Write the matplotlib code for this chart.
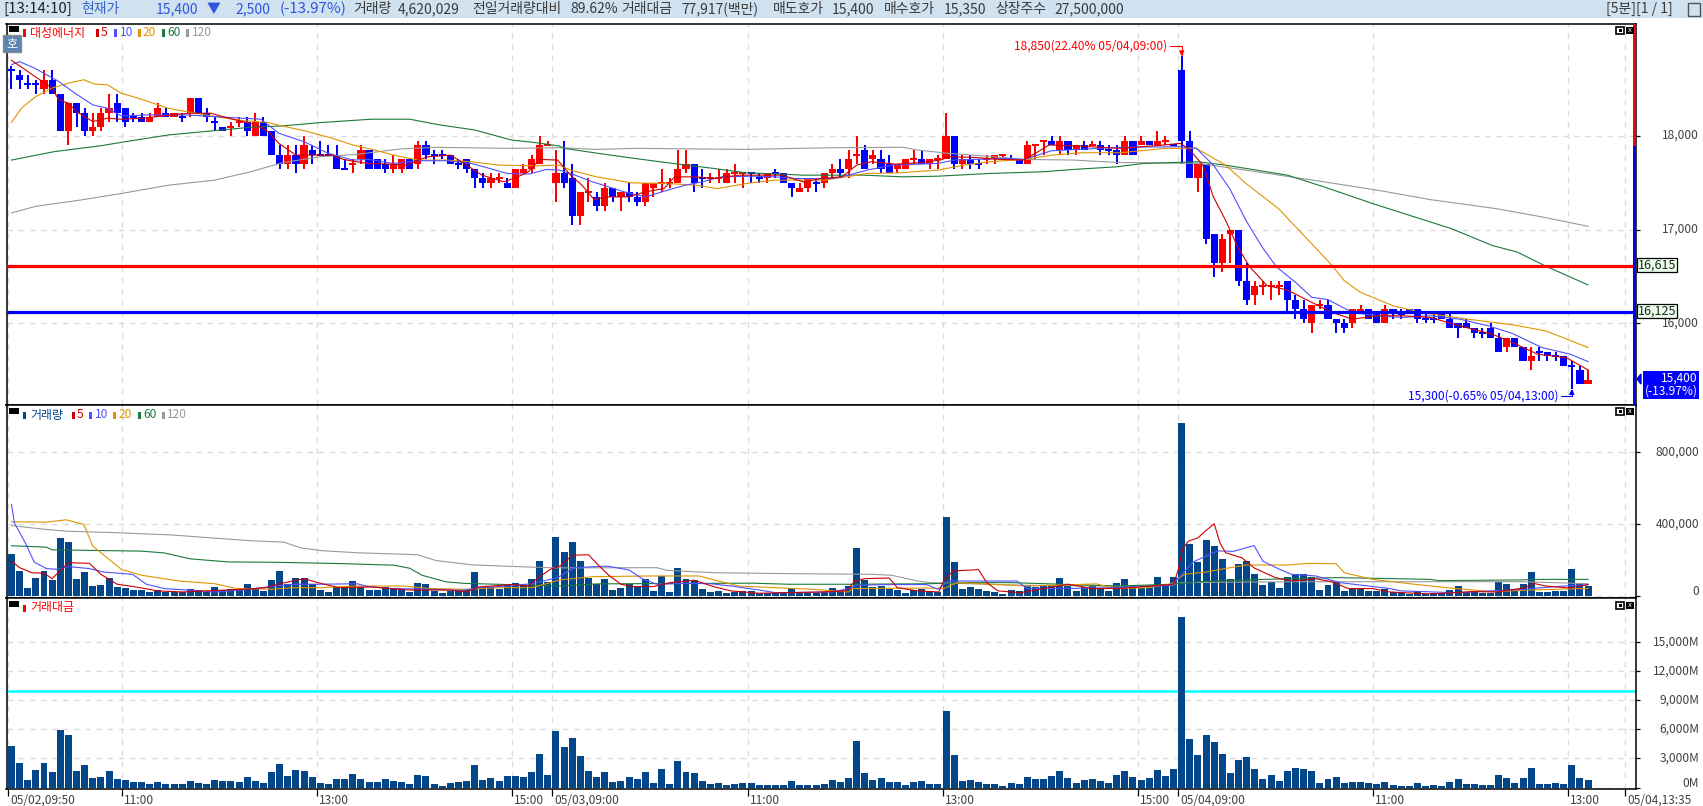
import matplotlib
matplotlib.use('Agg')
import matplotlib.pyplot as plt
from matplotlib.patches import Rectangle, Polygon
from matplotlib.transforms import ScaledTranslation

plt.rcParams['font.family'] = ['Noto Sans CJK KR', 'DejaVu Sans']

W, H = 1703, 806

# 5 minute candles
open_ = [18700,18650,18550,18550,18500,18600,18450,18050,18350,18250,
18050,18100,18250,18350,18300,18200,18200,18150,18200,18250,
18200,18200,18250,18400,18250,18150,18100,18100,18150,18150,
18000,18150,18050,17800,17700,17800,17700,17850,17800,17800,
17800,17650,17700,17750,17850,17750,17700,17650,17650,17750,
17700,17900,17800,17800,17800,17700,17750,17650,17550,17500,
17550,17500,17450,17600,17650,17700,17900,17500,17600,17550,
17150,17400,17350,17250,17450,17350,17400,17350,17300,17450,
17500,17500,17500,17650,17700,17550,17550,17550,17500,17600,
17600,17600,17550,17550,17600,17600,17500,17400,17450,17500,
17500,17600,17650,17650,17800,17850,17750,17750,17700,17650,
17650,17750,17750,17700,17750,17750,18000,17700,17750,17700,
17750,17750,17800,17750,17750,17700,17900,17950,17950,17850,
17950,17850,17900,17900,17900,17850,17850,17800,17950,17900,
17950,17900,17950,17900,18700,17950,17550,17700,16950,16650,
16950,17000,16450,16300,16400,16400,16400,16450,16250,16150,
16000,16200,16200,16050,16000,16000,16100,16150,16100,16000,
16150,16100,16150,16150,16050,16050,16100,16050,16000,16000,
15950,15900,15950,15850,15750,15850,15750,15600,15700,15700,
15650,15650,15550,15500,15350]
high = [18750,18700,18650,18600,18700,18700,18450,18350,18350,18300,
18250,18300,18450,18450,18300,18250,18250,18250,18350,18300,
18250,18250,18400,18400,18300,18200,18100,18150,18200,18200,
18250,18200,18050,17900,17900,17900,18000,17900,17950,17900,
17900,17750,17750,17900,17850,17750,17750,17800,17750,17750,
17950,17950,17850,17850,17800,17750,17750,17650,17600,17600,
17600,17550,17650,17700,17800,18000,17950,17850,17950,17700,
17400,17550,17400,17500,17450,17400,17500,17400,17500,17500,
17650,17550,17850,17850,17700,17650,17600,17650,17650,17700,
17600,17600,17600,17600,17650,17600,17500,17500,17550,17550,
17600,17700,17750,17850,18000,17900,17850,17850,17800,17700,
17750,17850,17850,17750,17800,18250,18000,17800,17800,17750,
17800,17800,17800,17800,17750,17950,17900,17950,18000,18000,
17950,17900,17950,17950,17950,17900,17900,18000,17950,18000,
17950,18050,18000,17900,18850,18050,17700,17700,16950,16950,
17000,17000,16650,16450,16450,16450,16450,16450,16300,16250,
16200,16250,16250,16050,16050,16150,16200,16150,16100,16200,
16150,16150,16150,16150,16100,16100,16100,16100,16000,16050,
15950,15950,16000,15900,15850,15850,15750,15750,15750,15700,
15700,15650,15600,15550,15500]
low = [18500,18500,18500,18450,18450,18450,18050,17900,18100,18000,
18000,18050,18150,18150,18100,18150,18150,18150,18200,18200,
18200,18150,18200,18250,18150,18050,18050,18000,18100,18000,
18000,18000,17800,17650,17650,17600,17650,17700,17800,17800,
17650,17650,17600,17700,17650,17650,17600,17600,17600,17650,
17650,17750,17700,17750,17700,17650,17600,17450,17450,17450,
17500,17450,17450,17600,17600,17700,17900,17300,17450,17050,
17050,17300,17200,17200,17300,17200,17300,17250,17250,17350,
17400,17450,17500,17600,17400,17450,17500,17500,17500,17500,
17450,17500,17500,17500,17550,17500,17350,17400,17400,17400,
17450,17550,17550,17550,17700,17650,17700,17600,17600,17600,
17650,17700,17700,17650,17650,17750,17650,17650,17650,17650,
17700,17700,17750,17750,17700,17700,17750,17800,17900,17800,
17800,17800,17850,17900,17800,17800,17700,17800,17800,17900,
17900,17900,17900,17900,17700,17550,17400,16850,16500,16550,
16650,16400,16200,16200,16300,16250,16300,16100,16050,16000,
15900,16150,16050,15900,15900,15950,16100,16050,16000,16000,
16050,16050,16100,16000,16000,16000,16050,15950,15850,15950,
15850,15850,15850,15700,15700,15750,15600,15500,15600,15600,
15600,15550,15300,15350,15350]
close = [18700,18600,18550,18550,18600,18450,18050,18350,18250,18050,
18100,18250,18300,18250,18150,18200,18150,18200,18300,18200,
18250,18200,18400,18250,18200,18150,18050,18100,18150,18050,
18150,18000,17800,17700,17800,17700,17900,17800,17800,17800,
17650,17650,17700,17850,17650,17650,17650,17700,17750,17650,
17900,17800,17800,17800,17700,17700,17650,17550,17500,17550,
17550,17450,17650,17650,17750,17900,17900,17600,17500,17150,
17400,17400,17250,17450,17350,17400,17350,17300,17500,17500,
17500,17500,17650,17700,17500,17550,17550,17550,17600,17600,
17600,17600,17550,17600,17600,17500,17450,17450,17550,17500,
17600,17650,17600,17750,17800,17650,17800,17650,17600,17700,
17750,17750,17700,17750,17750,18000,17700,17750,17700,17700,
17750,17800,17800,17750,17700,17900,17900,17950,17900,17950,
17850,17900,17850,17900,17850,17850,17800,17950,17800,17950,
17900,17950,17950,17900,17950,17550,17700,16900,16650,16900,
17000,16450,16250,16400,16400,16400,16400,16250,16150,16050,
16200,16200,16050,16000,15950,16150,16150,16050,16000,16150,
16100,16100,16100,16050,16050,16050,16050,15950,15950,15950,
15900,15900,15850,15700,15850,15750,15600,15650,15700,15650,
15650,15550,15550,15350,15400]
red_doji = [27,28,42,60,66,71,80,81,86,87,89,90,104,111,114,120,122,126,127,133,142,154,155,156,161]

volume = [233000,139000,44000,100000,139000,89000,326000,299000,94000,133000,
56000,61000,100000,50000,44000,33000,33000,22000,33000,25000,
22000,22000,39000,33000,22000,50000,33000,39000,33000,67000,
39000,28000,89000,139000,67000,100000,100000,67000,33000,22000,
50000,50000,83000,50000,33000,33000,50000,39000,39000,22000,
72000,67000,28000,17000,28000,33000,39000,133000,50000,50000,
39000,67000,72000,61000,94000,194000,78000,332000,244000,299000,
194000,100000,67000,94000,33000,44000,67000,56000,94000,28000,
111000,22000,156000,94000,89000,39000,22000,28000,17000,22000,
28000,28000,17000,17000,17000,17000,44000,17000,17000,17000,
22000,44000,33000,56000,271000,89000,50000,56000,39000,33000,
17000,33000,39000,28000,22000,443000,189000,39000,50000,39000,
28000,22000,11000,33000,28000,61000,50000,61000,56000,100000,
67000,28000,50000,56000,39000,28000,72000,96000,62000,47000,
56000,106000,67000,106000,960000,288000,189000,315000,282000,205000,
94000,178000,194000,122000,61000,78000,44000,106000,122000,122000,
106000,33000,61000,78000,28000,44000,44000,28000,28000,39000,
22000,17000,11000,28000,11000,17000,17000,33000,56000,22000,
22000,17000,17000,78000,67000,33000,67000,133000,22000,22000,
28000,28000,150000,67000,56000]

amount = [4290,2540,790,1820,2540,1610,5930,5420,1715,2330,
995,1100,1715,890,790,580,580,380,580,380,
380,380,690,480,380,790,690,690,580,1100,
690,480,1610,2435,1200,1820,1715,1100,480,380,
890,890,1400,890,580,580,890,690,580,380,
1300,1200,380,170,480,580,690,2330,790,995,
690,1200,1200,1100,1610,3465,1300,5830,4185,5110,
3260,1715,1100,1610,580,690,1100,890,1610,480,
1920,380,2745,1610,1510,690,380,480,275,380,
480,480,275,275,275,275,690,275,275,275,
380,790,580,995,4800,1510,790,995,580,580,
275,580,690,380,380,7890,3360,690,790,580,
380,380,170,480,380,1100,890,890,1200,1715,
995,480,790,890,690,480,1300,1715,1100,790,
995,1820,1200,1920,17660,5010,3360,5420,4700,3465,
1510,2850,3155,1920,890,1300,690,1715,2020,1920,
1715,480,890,1100,480,580,580,480,380,580,
275,170,170,480,170,275,170,580,890,380,
380,275,275,1300,995,480,995,2020,380,380,
480,380,2330,995,790]

# price moving averages, vertices
p5_x = [0,1.2,3,5,5.8,7,8,10,11.8,13.5,16.2,19.7,21.9,24.5,26.7,28.5,30.2,31.6,32.9,35,36.8,39.5,40.8,42.5,43.9,46.5,48.7,50,51.3,54,55.7,57.9,60.6,62.3,63.6,65,67.2,68.8,70.2,71.7,73.2,75.9,78,80.3,81.6,84.2,86.4,89.5,94.8,97.4,99.6,102.2,104,105.8,108.8,111.5,114.3,115.4,118.5,121.6,124.6,127.7,131.2,136.4,141.8,143.8,144.8,146.6,147.9,149.4,150.9,152.4,154.5,157,160,162.5,165,168.1,171.1,174.6,178.2,182.2,184.7,187.8,191.3,194]
p5 = [18807,18736,18628,18511,18386,18350,18261,18154,18189,18179,18189,18225,18243,18243,18189,18154,18118,18046,17921,17796,17796,17796,17750,17725,17707,17700,17689,17743,17779,17796,17707,17582,17511,17564,17618,17750,17743,17582,17475,17321,17350,17350,17404,17439,17564,17564,17546,17582,17582,17511,17546,17564,17689,17725,17700,17714,17743,17779,17771,17750,17743,17904,17893,17868,17904,17921,17868,17689,17350,17100,16814,16600,16404,16357,16225,16118,16046,16082,16082,16064,15975,15886,15797,15672,15636,15504]
p10_x = [0,1,2.8,4.3,5.8,7.8,10,11.8,13.5,17,21.5,25,28.5,30.7,32.9,36,39,42,44,47,50,53.5,56.6,58.8,61,63.7,65.8,67.4,68.8,71.5,75.4,78,80.7,82.9,85,87.3,91.3,93.9,96.5,101,103,105.3,108.4,114,116,122.5,124.6,128,136.4,143.8,145.8,147.9,149.9,151.9,153.9,155.7,158,160,162,165,168,171.1,174.6,178.2,181.7,184.7,188.3,191.8,194]
p10 = [18761,18793,18725,18654,18582,18457,18332,18296,18214,18225,18225,18207,18189,18179,18029,17939,17814,17743,17750,17707,17736,17736,17707,17654,17600,17593,17643,17636,17600,17511,17404,17350,17421,17475,17511,17564,17571,17564,17546,17546,17582,17636,17689,17707,17743,17761,17750,17843,17879,17886,17868,17689,17439,17100,16814,16600,16439,16279,16254,16118,16082,16064,16082,16046,15975,15893,15743,15672,15593]
p20_x = [0,1.2,3,5,7,8.9,10.2,11.8,13.5,16.2,19.3,21.9,25,28.5,31.6,33.3,36,39.5,42,44.7,47,50,53.5,56.6,60,64.5,67.4,68.8,72,76.3,80.7,84.2,86.9,90.4,93.9,97.8,100,102.7,105.3,109.3,114,117.2,120.3,124.6,128,131.7,136.4,142,145.8,149.4,151.9,155.9,160,162.5,164,166,170,173.4,179.2,184.7,188.8,194]
p20 = [18143,18296,18421,18511,18564,18600,18554,18546,18457,18386,18296,18254,18207,18164,18143,18107,18057,17975,17904,17850,17796,17743,17743,17725,17689,17682,17689,17636,17564,17500,17493,17475,17439,17493,17529,17529,17529,17564,17600,17607,17636,17689,17725,17750,17796,17821,17821,17868,17868,17689,17493,17225,16850,16618,16457,16332,16189,16118,16046,15986,15921,15743]
p60_x = [0,5.2,11,14,19.3,25,29.4,33.3,38,44.3,49,52.7,57,61.5,64.5,67.4,68,72.8,77.6,82,86.4,90.4,94.8,97.4,104.9,109.7,114,120.3,126.9,131.2,136,139.3,146,149.4,157,161.5,167.5,172,177.2,182.2,185.3,188.8,194]
p60 = [17743,17832,17896,17939,18011,18057,18093,18107,18143,18179,18179,18118,18064,17957,17929,17893,17868,17807,17750,17700,17654,17607,17593,17582,17582,17564,17571,17600,17618,17646,17671,17707,17725,17689,17582,17457,17279,17154,17011,16832,16761,16611,16411]
p120_x = [0,3,8.3,13.5,19.3,25,29.4,33.3,38,42.5,47.8,52.2,61.5,67.5,72,77,90.4,101.3,109.7,111.5,115.4,119.8,124.6,130.7,136,146,150.4,161.5,168.6,174.6,182.7,188.8,194]
p120 = [17179,17250,17314,17386,17475,17529,17618,17714,17779,17804,17861,17879,17868,17875,17857,17868,17857,17875,17879,17850,17814,17786,17750,17743,17718,17707,17654,17511,17414,17321,17225,17129,17036]

# volume moving averages
v5_x = [0,1,2.5,4,5,7,9.6,11,13,15.3,18,21,24.5,29.4,31.3,33,36,37.7,40.3,44.3,48.7,54,56,57.5,61.5,63.6,64.7,66.3,67.5,69,71,72,73.5,75,76.4,79,81,84,86.4,88.5,92,99.6,102.7,103.8,105,108,109,111.5,114.1,114.8,115.9,119,120,121.4,124.2,126.5,130,133,136.5,143,143.6,144.1,144.8,146,146.9,148,148.7,149.4,151.4,152.9,154,155.5,157.5,160.5,162.5,164.5,167.5,169.6,174.6,179.7,182.7,186.3,187.3,188.8,191.8,194]
v5 = [196000,159000,131000,128000,98000,187000,183000,122000,67000,52000,30000,24000,31000,41000,48000,70000,98000,76000,48000,52000,35000,35000,24000,52000,65000,57000,98000,150000,168000,228000,231000,183000,117000,67000,54000,54000,76000,89000,54000,30000,17000,24000,30000,85000,98000,102000,48000,30000,24000,94000,141000,148000,76000,30000,20000,39000,67000,43000,44000,67000,153000,260000,306000,325000,362000,403000,297000,242000,214000,158000,135000,104000,85000,98000,80000,43000,43000,24000,13000,26000,24000,48000,72000,57000,46000,65000]
v10_x = [0,0.35,1.7,2.8,4.3,5.6,7,9.6,11.3,14.9,16.6,18.8,21.5,25,28.5,32.4,35,38,42.5,43.9,46.5,51.3,55.7,57.5,61,64,67.2,69.3,73.3,76,77.6,79.4,83,86,88.6,92,94,101,103,104,107,112.6,114,115.3,123.7,125,131,136,142.8,145.4,148.4,150.4,152.9,154,155.9,157.5,160.5,163.5,169.6,171,177.7,186,190,194]
v10 = [510000,408000,297000,190000,154000,150000,165000,154000,135000,122000,67000,43000,35000,24000,35000,57000,67000,67000,70000,54000,44000,39000,33000,48000,57000,70000,104000,159000,168000,146000,98000,67000,72000,70000,57000,35000,20000,24000,43000,61000,65000,65000,39000,85000,85000,43000,44000,48000,61000,191000,252000,250000,282000,195000,153000,122000,113000,76000,43000,30000,20000,39000,54000,65000]
v20_x = [0,4.3,6.7,8.9,10,13.5,16,20.6,25,27.6,32,34.6,38,42.5,48.3,51.3,55.7,60,64,66.3,67.5,71.5,78.6,84.6,87,89.5,94,98.5,103,103.5,112,114.7,116.4,125,133.5,135.8,140,142.8,144.3,147,149.3,152,157,159.5,163,164,167.5,172.6,177.7,182.2,187,194]
v20 = [414000,412000,425000,399000,279000,150000,117000,85000,70000,44000,39000,48000,48000,57000,57000,44000,39000,48000,48000,76000,91000,109000,113000,113000,85000,57000,48000,39000,24000,43000,46000,43000,76000,57000,69000,43000,48000,70000,122000,135000,154000,174000,174000,183000,181000,131000,94000,67000,43000,26000,35000,44000]
v60_x = [0,4.3,5,16,18.8,22,26.7,32.4,40.3,47,49,50.5,53.5,55.7,64.5,67.4,72,91.2,95.6,103.6,113,117.6,123,136,142.8,146,154,163,174.6,175.6,186,187,194]
v60 = [281000,273000,258000,251000,241000,208000,191000,189000,182000,173000,156000,117000,80000,72000,61000,57000,69000,73000,67000,67000,70000,76000,76000,57000,67000,81000,94000,104000,94000,87000,91000,94000,94000]
v120_x = [0,3.5,6.6,13.2,20,25,29.7,33.5,35.6,38.3,42.5,50,52.2,56.6,61.5,67,79.4,80.7,86.4,95.6,106,108.3,111.5,113,125,136,142.8,144,158.5,174.6,186,194]
v120 = [393000,375000,362000,353000,340000,323000,308000,301000,269000,253000,242000,231000,199000,175000,166000,158000,159000,144000,131000,126000,122000,117000,85000,76000,61000,57000,61000,76000,81000,81000,81000,70000]

resist = 16615
support = 16125
amount_line = 10000

grid_idx = [0, 14, 38, 62, 67, 91, 115, 139, 144, 168, 192, 199]
grid_labels = ['05/02,09:50', '11:00', '13:00', '15:00', '05/03,09:00', '11:00', '13:00',
               '15:00', '05/04,09:00', '11:00', '13:00', '05/04,13:35']

RED, BLUE, NAVY = '#ff0000', '#0000ff', '#03468a'
C5, C10, C20, C60, C120 = '#cc0000', '#5050ff', '#e09400', '#1a7a3a', '#999999'
TXT = '#404040'
GRID = '#dcdcdc'
MA_LW = 0.8

fig = plt.figure(figsize=(W / 100, H / 100), dpi=100, facecolor='white')


def panel(top, bottom):
    a = fig.add_axes([6.5 / W, 1 - bottom / H, (1636 - 6.5) / W, (bottom - top) / H])
    a.set_xlim(-0.615, 199.9)
    for s in a.spines.values():
        s.set_linewidth(1.1)
    a.yaxis.tick_right()
    a.tick_params(axis='y', length=3, width=0.9, pad=42.5, labelsize=8.6, labelcolor=TXT)
    for g in grid_idx:
        a.axvline(g - 0.43, color=GRID, lw=1, ls=(0, (4, 4)), zorder=0)
    return a


def lift_labels(a, first_extra=0):
    # labels sit a little above their ticks, the lowest one even more
    for n, lab in enumerate(a.get_yticklabels()):
        up = 2 + (first_extra if n == 0 else 0)
        lab.set_transform(lab.get_transform() + ScaledTranslation(0, up / 100, fig.dpi_scale_trans))


def ptext(x, y, s, **kw):
    kw.setdefault('va', 'center')
    kw.setdefault('size', 10)
    return fig.text(x / W, 1 - y / H, s, **kw)


def prect(x0, y0, x1, y1, **kw):
    fig.add_artist(Rectangle((x0 / W, 1 - y1 / H), (x1 - x0) / W, (y1 - y0) / H,
                             transform=fig.transFigure, lw=kw.pop('lw', 0), **kw))


# header band
prect(0, 0, W, 18, color='#d0e1ef', zorder=-5)
HBLUE = '#2f55e0'
ptext(3, 9, '[13:14:10]', color='#222222', size=10.8)
ptext(81, 9, '현재가', color='#3a66c8')
ptext(156, 9, '15,400', color=HBLUE)
ptext(214, 9, '▼', color=HBLUE, ha='center')
ptext(235, 9, '2,500', color=HBLUE)
ptext(280, 9, '(-13.97%)', color=HBLUE, size=10.8)
for x, s in [(353, '거래량'), (398, '4,620,029'), (472, '전일거래량대비'), (570, '89.62%'),
             (621, '거래대금'), (681, '77,917(백만)'), (772.5, '매도호가'), (832, '15,400'),
             (884, '매수호가'), (944, '15,350'), (995, '상장주수'), (1054, '27,500,000')]:
    ptext(x, 9, s, color='#3a3a3a')
ptext(1606, 9, '[5분][1 / 1]', color='#3a3a3a')
prect(1688, 3, 1700, 16, facecolor='#d0e1ef', edgecolor='#555555', lw=1)

# price panel
ax1 = panel(23.5, 405)
ax1.set_ylim(15130, 19200)
ax1.set_yticks([16000, 17000, 18000], ['16,000', '17,000', '18,000'], ha='right')
lift_labels(ax1)
ax1.set_xticks([])
ax1.grid(axis='y', color=GRID, lw=1, ls=(0, (4, 4)), zorder=0)
ax1.set_axisbelow(True)

for i, (o, h, l, c) in enumerate(zip(open_, high, low, close)):
    if c > o or (c == o and i in red_doji):
        col = RED
    else:
        col = BLUE
    ax1.vlines(i, l, h, color=col, lw=1.1, zorder=2, antialiased=False)
    if c == o:
        ax1.hlines(c, i - 0.43, i + 0.43, color=col, lw=1.3, zorder=2, antialiased=False)
    else:
        ax1.bar(i, abs(c - o), bottom=min(o, c), width=0.88, color=col, lw=0, zorder=2)

ax1.plot(p120_x, p120, color=C120, lw=MA_LW, zorder=3)
ax1.plot(p60_x, p60, color=C60, lw=MA_LW, zorder=3)
ax1.plot(p20_x, p20, color=C20, lw=MA_LW, zorder=3)
ax1.plot(p10_x, p10, color=C10, lw=MA_LW, zorder=3)
ax1.plot(p5_x, p5, color=C5, lw=MA_LW, zorder=3)
ax1.axhline(resist, color=RED, lw=2.3, zorder=4)
ax1.axhline(support, color=BLUE, lw=2.3, zorder=4)

ax1.annotate('18,850(22.40% 05/04,09:00)', xy=(144, 18850), xytext=(-15, 10),
             textcoords='offset pixels', ha='right', va='center', color=RED, size=8.6)
ax1.annotate('', xy=(144, 18850), xytext=(-12, 10), textcoords='offset pixels',
             arrowprops=dict(arrowstyle='-|>,head_width=0.15,head_length=0.3', color=RED, lw=0.8,
                             shrinkA=0, shrinkB=0, connectionstyle='angle,angleA=0,angleB=90,rad=0'))
ax1.annotate('15,300(-0.65% 05/04,13:00)', xy=(192, 15300), xytext=(-13, -7),
             textcoords='offset pixels', ha='right', va='center', color=BLUE, size=8.6)
ax1.annotate('', xy=(192, 15300), xytext=(-11, -7), textcoords='offset pixels',
             arrowprops=dict(arrowstyle='-|>,head_width=0.15,head_length=0.3', color=BLUE, lw=0.8,
                             shrinkA=0, shrinkB=0, connectionstyle='angle,angleA=0,angleB=90,rad=0'))

# volume panel
ax2 = panel(405, 598)
ax2.set_ylim(-9400, 1062700)
ax2.set_yticks([0, 400000, 800000], ['0', '400,000', '800,000'], ha='right')
lift_labels(ax2, first_extra=4)
ax2.set_xticks([])
ax2.grid(axis='y', color=GRID, lw=1, ls=(0, (4, 4)), zorder=0)
ax2.set_axisbelow(True)
ax2.bar(range(len(volume)), volume, width=0.86, color=NAVY, lw=0, zorder=2)
ax2.plot(v120_x, v120, color=C120, lw=MA_LW, zorder=3)
ax2.plot(v60_x, v60, color=C60, lw=MA_LW, zorder=3)
ax2.plot(v20_x, v20, color=C20, lw=MA_LW, zorder=3)
ax2.plot(v10_x, v10, color=C10, lw=MA_LW, zorder=3)
ax2.plot(v5_x, v5, color=C5, lw=MA_LW, zorder=3)

# amount panel
ax3 = panel(598, 789)
ax3.set_ylim(-155, 19594)
ax3.set_yticks([0, 3000, 6000, 9000, 12000, 15000],
               ['0M', '3,000M', '6,000M', '9,000M', '12,000M', '15,000M'], ha='right')
lift_labels(ax3, first_extra=4)
ax3.grid(axis='y', color=GRID, lw=1, ls=(0, (4, 4)), zorder=0)
ax3.set_axisbelow(True)
ax3.axhline(amount_line, color='#00ffff', lw=1.8, zorder=1)
ax3.bar(range(len(amount)), amount, width=0.86, color=NAVY, lw=0, zorder=2)
ax3.set_xticks([g - 0.43 for g in grid_idx], grid_labels, ha='left')
ax3.tick_params(axis='x', length=5, width=0.9, pad=-1.5, labelsize=8.6, labelcolor=TXT)
for lab in ax3.get_xticklabels():
    lab.set_transform(lab.get_transform() + ScaledTranslation(2 / 100, 0, fig.dpi_scale_trans))

# right side strength bar
prect(1632.5, 24, 1636, 146, color=RED, zorder=6)
prect(1632.5, 146, 1636, 405, color=BLUE, zorder=6)


# legends
def legend(y, entries):
    prect(9, y - 7, 19, y - 1, color='black', zorder=6)
    for mx, tx, s, col in entries:
        prect(mx, y - 3.5, mx + 3, y + 3.5, color=col, zorder=6)
        ptext(tx, y, s, color=col, size=8.6, zorder=6)


legend(33, [(23, 30, '대성에너지', RED), (96, 101, '5', C5), (114, 120, '10', C10),
            (137.5, 143, '20', C20), (161.5, 167, '60', C60), (186, 192, '120', C120)])
legend(415, [(23, 30, '거래량', NAVY), (71.5, 77, '5', C5), (89, 95, '10', C10),
             (113, 119, '20', C20), (137.5, 143, '60', C60), (161.5, 167, '120', C120)])
legend(608, [(23, 30, '거래대금', RED)])

# panel buttons
for y in (27, 408, 602):
    prect(1616, y, 1624, y + 7, facecolor='white', edgecolor='black', lw=1.2, zorder=6)
    prect(1618.5, y + 2, 1621.5, y + 5, color='black', zorder=7)
    prect(1626, y, 1634, y + 7, color='black', zorder=6)
    ptext(1630, y + 3.2, 'x', color='white', size=5.5, ha='center', zorder=7)

# chart type button
prect(2.5, 35, 21, 52, facecolor='#5b84b1', edgecolor='#8a8a8a', lw=1, zorder=6)
ptext(11.7, 43.5, '호', color='white', size=8.6, ha='center', zorder=7)

# price boxes on the right
for y, s in [(265, '16,615'), (311, '16,125')]:
    prect(1637, y - 7, 1677, y + 7, facecolor='#eaffea', edgecolor='black', lw=0.9, zorder=6)
    ptext(1657, y, s, color='#222222', size=9, ha='center', zorder=7)
prect(1643, 371, 1699, 399, color=BLUE, zorder=6)
ptext(1698, 378.5, '15,400', color='white', size=8.6, ha='right', zorder=7)
ptext(1698, 391.5, '(-13.97%)', color='white', size=8.6, ha='right', zorder=7)
fig.add_artist(Polygon([(1637 / W, 1 - 379 / H), (1641 / W, 1 - 374 / H), (1641 / W, 1 - 384 / H)],
                       transform=fig.transFigure, color=BLUE, zorder=6))

fig.savefig('out.png', dpi=100)
